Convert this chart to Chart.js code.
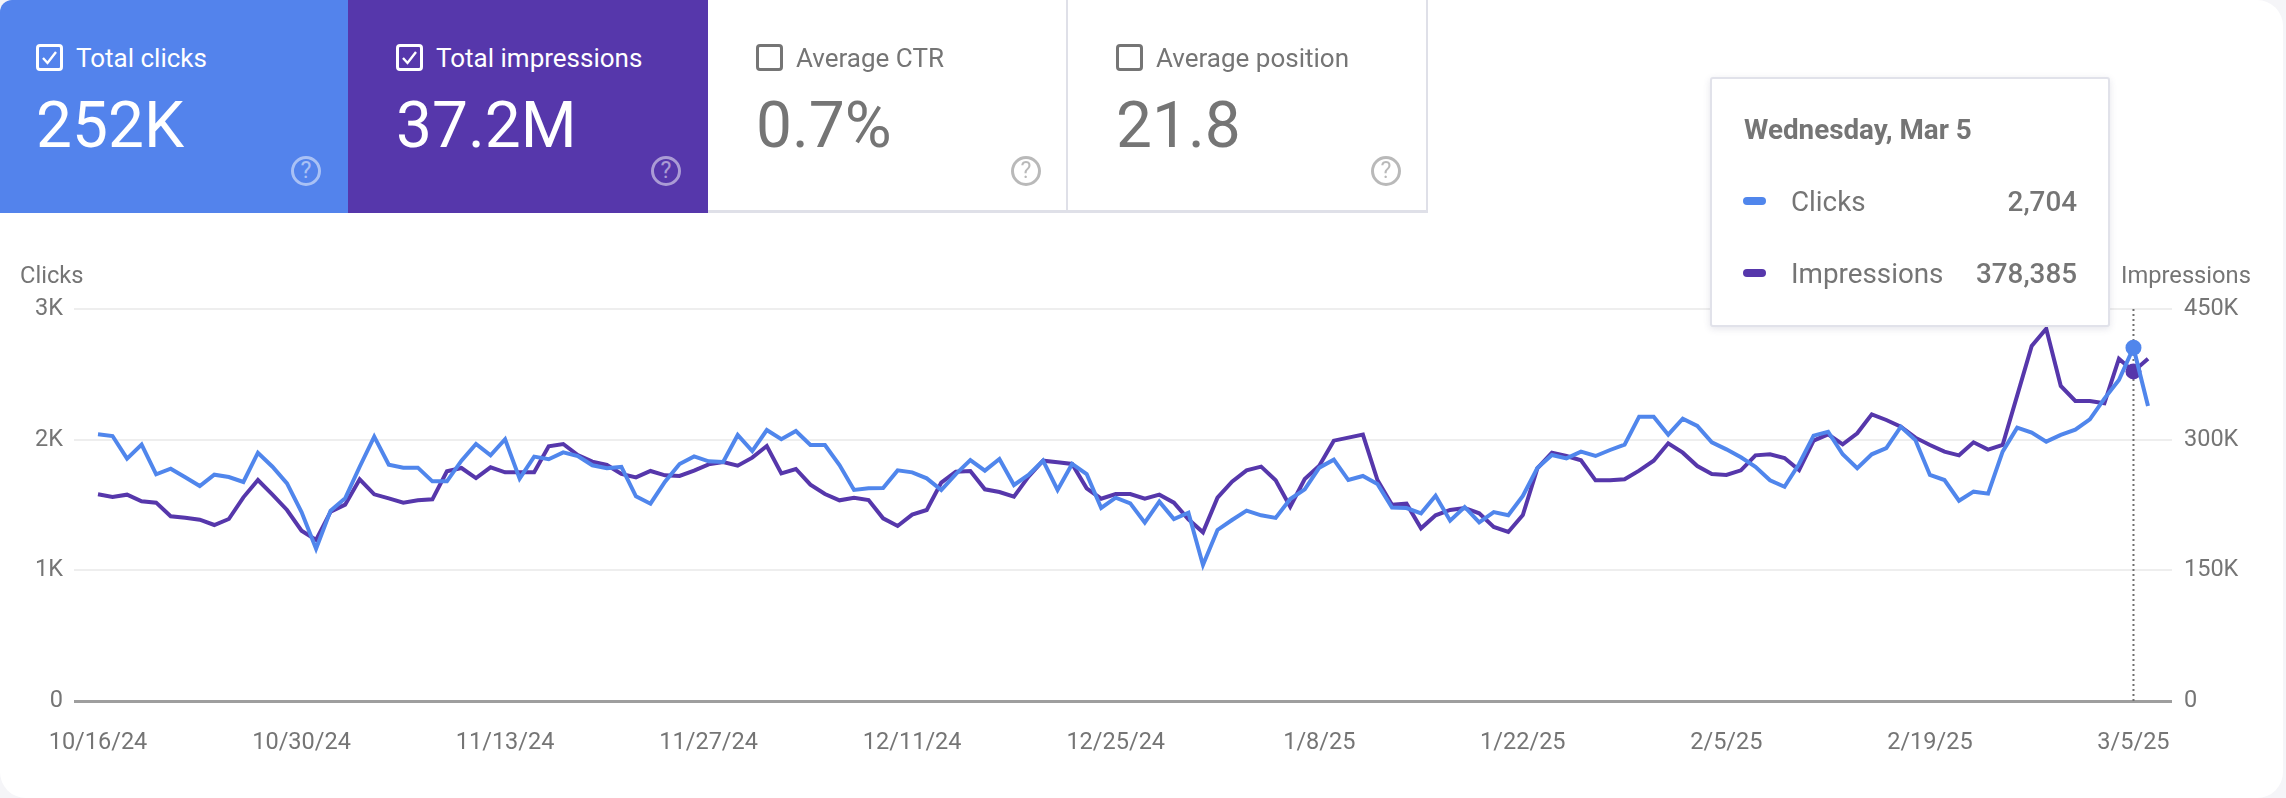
<!DOCTYPE html>
<html>
<head>
<meta charset="utf-8">
<title>Search performance</title>
<script src="https://cdn.jsdelivr.net/npm/chart.js@4"></script>
<style>
  html, body { margin: 0; padding: 0; background: #f5f5f8; }
  body { width: 2286px; height: 798px; overflow: hidden; font-family: Roboto, sans-serif; color: #757575; }
  #panel { position: absolute; left: 0; top: 0; width: 2283px; height: 798px; background: #fff; border-radius: 12px 26px 26px 26px; overflow: hidden; }
  #chartBox { position: absolute; left: 0; top: 0; width: 2283px; height: 798px; }
  .card { position: absolute; top: 0; height: 213px; box-sizing: border-box; }
  .card.off { border-bottom: 3px solid #dfe0e8; border-right: 2px solid #dfe0e8; }
  .card.blue { background: #5383ec; color: #fff; }
  .card.purple { background: #5637ab; color: #fff; }
  .check { position: absolute; top: 44px; width: 27px; height: 27px; }
  .name { position: absolute; top: 42px; font-size: 26px; line-height: 32px; white-space: nowrap; }
  .big { position: absolute; top: 88px; font-size: 64px; line-height: 76px; white-space: nowrap; }
  .help { position: absolute; top: 156px; width: 30px; height: 30px; box-sizing: border-box; border: 3px solid currentColor; border-radius: 50%;
    font-size: 23px; line-height: 24px; text-align: center; opacity: .5; }
  .axisName { position: absolute; top: 260px; font-size: 23.7px; line-height: 30px; white-space: nowrap; }
  #tip { position: absolute; left: 1710px; top: 77px; width: 400px; height: 250px; box-sizing: border-box; background: #fff;
    border: 2px solid #e1e2ea; border-radius: 3px; box-shadow: 0 2px 7px rgba(70,70,110,.14); }
  #tip div { position: absolute; white-space: nowrap; }
  .tipTitle { left: 32px; top: 33px; font-size: 27.8px; line-height: 36px; font-weight: 700; }
  .swatch { left: 31px; width: 23px; height: 8px; border-radius: 4px; }
  .tipName { left: 79px; font-size: 27.8px; line-height: 36px; }
  .tipVal { right: 31px; font-size: 27.8px; line-height: 36px; font-weight: 500; }
</style>
</head>
<body>
<div id="panel">
  <div id="chartBox"><canvas id="perfChart"></canvas></div>

  <div class="card blue" style="left:0;width:348px">
    <svg class="check" style="left:36px" viewBox="0 0 27 27"><rect x="1.5" y="1.5" width="24" height="24" rx="2.5" fill="none" stroke="#fff" stroke-width="3"/><path d="M7 14l4.5 5L20 8" fill="none" stroke="#fff" stroke-width="2.4"/></svg>
    <div class="name" style="left:76px">Total clicks</div>
    <div class="big" style="left:36px">252K</div>
    <div class="help" style="left:291px">?</div>
  </div>
  <div class="card purple" style="left:348px;width:360px">
    <svg class="check" style="left:48px" viewBox="0 0 27 27"><rect x="1.5" y="1.5" width="24" height="24" rx="2.5" fill="none" stroke="#fff" stroke-width="3"/><path d="M7 14l4.5 5L20 8" fill="none" stroke="#fff" stroke-width="2.4"/></svg>
    <div class="name" style="left:88px">Total impressions</div>
    <div class="big" style="left:48px">37.2M</div>
    <div class="help" style="left:303px">?</div>
  </div>
  <div class="card off" style="left:708px;width:360px">
    <svg class="check" style="left:48px" viewBox="0 0 27 27"><rect x="1.5" y="1.5" width="24" height="24" rx="2.5" fill="none" stroke="#757575" stroke-width="3"/></svg>
    <div class="name" style="left:88px">Average CTR</div>
    <div class="big" style="left:48px">0.7%</div>
    <div class="help" style="left:303px">?</div>
  </div>
  <div class="card off" style="left:1068px;width:360px">
    <svg class="check" style="left:48px" viewBox="0 0 27 27"><rect x="1.5" y="1.5" width="24" height="24" rx="2.5" fill="none" stroke="#757575" stroke-width="3"/></svg>
    <div class="name" style="left:88px">Average position</div>
    <div class="big" style="left:48px">21.8</div>
    <div class="help" style="left:303px">?</div>
  </div>

  <div class="axisName" style="left:20px">Clicks</div>
  <div class="axisName" style="left:2121px">Impressions</div>

  <div id="tip">
    <div class="tipTitle">Wednesday, Mar 5</div>
    <div class="swatch" style="top:118px;background:#5086ec"></div>
    <div class="tipName" style="top:105px">Clicks</div>
    <div class="tipVal" style="top:105px">2,704</div>
    <div class="swatch" style="top:190px;background:#5637ab"></div>
    <div class="tipName" style="top:177px">Impressions</div>
    <div class="tipVal" style="top:177px">378,385</div>
  </div>
</div>

<script>
var clicks = [
  2041, 2028, 1855, 1962, 1735, 1778, 1712, 1645, 1732, 1714, 1676, 1900, 1793, 1666, 1446, 1166, 1457, 1551,
  1793, 2023, 1809, 1786, 1786, 1681, 1681, 1839, 1967, 1880, 2003, 1702, 1870, 1850, 1903, 1875, 1804, 1781,
  1791, 1566, 1510, 1679, 1814, 1872, 1834, 1829, 2036, 1913, 2074, 2003, 2066, 1959, 1959, 1806, 1615, 1628,
  1630, 1765, 1750, 1704, 1615, 1737, 1844, 1763, 1852, 1653, 1730, 1839, 1615, 1814, 1737, 1477, 1556, 1513,
  1365, 1526, 1393, 1441, 1041, 1309, 1385, 1457, 1421, 1401, 1546, 1620, 1786, 1847, 1691, 1722, 1661, 1480,
  1477, 1436, 1571, 1380, 1485, 1367, 1446, 1421, 1569, 1783, 1883, 1857, 1908, 1875, 1921, 1962, 2176, 2176,
  2038, 2161, 2105, 1980, 1926, 1865, 1793, 1689, 1640, 1814, 2031, 2061, 1888, 1781, 1888, 1936, 2099, 1997,
  1730, 1691, 1533, 1602, 1587, 1908, 2092, 2054, 1985, 2036, 2077, 2156, 2314, 2457, 2704, 2258
];
var impressions = [
  237250, 234190, 236870, 229210, 227680, 212000, 210460, 208160, 202050, 208930, 233800, 253700, 236870, 219270,
  195540, 184830, 217350, 225390, 254470, 237250, 232660, 227680, 230360, 231510, 263650, 267480, 255940, 268250,
  262500, 262500, 262500, 292350, 295030, 282400, 274750, 270920, 260590, 256760, 264040, 259060, 258300, 264420,
  271690, 274370, 270160, 279340, 292730, 261360, 266330, 248340, 237630, 230360, 233420, 230750, 209700, 200900,
  213910, 219270, 250640, 263270, 264040, 242990, 239930, 234570, 257530, 275900, 273980, 272070, 244140, 232270,
  237630, 237630, 232270, 236870, 227680, 208550, 193630, 233420, 251790, 264800, 269010, 253320, 223090, 254850,
  270160, 298860, 302300, 305750, 253700, 225390, 226540, 198220, 213140, 219270, 221560, 215440, 199750, 194010,
  213520, 267100, 285080, 281250, 276280, 253320, 253320, 254470, 264420, 275900, 295800, 285080, 269780, 260590,
  259440, 264800, 282020, 283170, 278960, 265180, 298860, 306130, 294650, 307280, 329090, 322580, 314920, 302300,
  293880, 286230, 282020, 296940, 288530, 293880, 350510, 407530, 427430, 361610, 344390, 344390, 341710, 392990,
  378385, 392990
];
var dateTicks = ["10/16/24", "10/30/24", "11/13/24", "11/27/24", "12/11/24", "12/25/24", "1/8/25", "1/22/25", "2/5/25", "2/19/25", "3/5/25"];
var dateTickDays = [0, 14, 28, 42, 56, 70, 84, 98, 112, 126, 140];
var clickTicks = { 0: "0", 1000: "1K", 2000: "2K", 3000: "3K" };
var impressionTicks = { 0: "0", 150000: "150K", 300000: "300K", 450000: "450K" };
var hoverDay = 140;

var tickFont = { family: "Roboto", size: 23.5 };
var textGrey = "#757575";

function toPoints(values) {
  return values.map(function (v, i) { return { x: i, y: v }; });
}

function hoverRadius(ctx) {
  return ctx.dataIndex === hoverDay ? 8 : 0;
}

// dotted marker that follows the hovered day
var hoverLine = {
  id: "hoverLine",
  beforeDatasetsDraw: function (chart) {
    var c = chart.ctx;
    var x = chart.scales.x.getPixelForValue(hoverDay);
    c.save();
    c.strokeStyle = "#6f6f6f";
    c.lineWidth = 2;
    c.setLineDash([2, 3]);
    c.beginPath();
    c.moveTo(x, chart.chartArea.top);
    c.lineTo(x, chart.chartArea.bottom);
    c.stroke();
    c.restore();
  }
};

new Chart(document.getElementById("perfChart"), {
  type: "line",
  data: {
    datasets: [
      {
        label: "Clicks",
        data: toPoints(clicks),
        yAxisID: "yClicks",
        borderColor: "#5086ec",
        backgroundColor: "#5086ec",
        borderWidth: 4,
        tension: 0,
        pointRadius: hoverRadius,
        pointBorderWidth: 0
      },
      {
        label: "Impressions",
        data: toPoints(impressions),
        yAxisID: "yImpressions",
        borderColor: "#5637ab",
        backgroundColor: "#5637ab",
        borderWidth: 4,
        tension: 0,
        pointRadius: hoverRadius,
        pointBorderWidth: 0
      }
    ]
  },
  options: {
    responsive: true,
    maintainAspectRatio: false,
    animation: false,
    events: [],
    layout: { padding: { top: 309, left: 0, right: 0, bottom: 0 } },
    plugins: { legend: { display: false }, tooltip: { enabled: false } },
    scales: {
      x: {
        type: "linear",
        min: -1.65,
        max: 142.65,
        afterBuildTicks: function (scale) {
          scale.ticks = dateTickDays.map(function (d) { return { value: d }; });
        },
        afterFit: function (scale) { scale.height = 97; },
        grid: { display: false },
        border: { display: false },
        ticks: {
          font: tickFont,
          color: textGrey,
          padding: 20,
          maxRotation: 0,
          autoSkip: false,
          callback: function (value) { return dateTicks[dateTickDays.indexOf(value)]; }
        }
      },
      yClicks: {
        position: "left",
        min: 0,
        max: 3000,
        afterFit: function (scale) { scale.width = 74; },
        border: { display: false },
        grid: {
          drawTicks: false,
          color: function (ctx) { return ctx.tick.value === 0 ? "#9e9e9e" : "#eeeeee"; },
          lineWidth: function (ctx) { return ctx.tick.value === 0 ? 3 : 2; }
        },
        ticks: {
          stepSize: 1000,
          font: tickFont,
          color: textGrey,
          padding: 11,
          callback: function (value) { return clickTicks[value]; }
        }
      },
      yImpressions: {
        position: "right",
        min: 0,
        max: 450000,
        afterFit: function (scale) { scale.width = 111; },
        border: { display: false },
        grid: { display: false, drawTicks: false },
        ticks: {
          stepSize: 150000,
          font: tickFont,
          color: textGrey,
          padding: 12,
          callback: function (value) { return impressionTicks[value]; }
        }
      }
    }
  },
  plugins: [hoverLine]
});
</script>
</body>
</html>
